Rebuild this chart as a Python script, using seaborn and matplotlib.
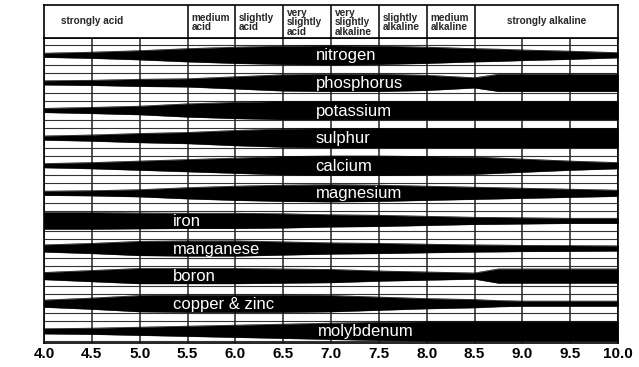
import numpy as np
import pandas as pd
import matplotlib
matplotlib.use("Agg")
import matplotlib.pyplot as plt
import seaborn as sns

# pH grid shared by every nutrient band
ph = [4.0, 4.5, 5.0, 5.5, 6.0, 6.5, 7.0, 7.5, 8.0, 8.5, 8.75, 9.0, 9.5, 10.0]

# relative availability (0-100)
nitrogen   = [20, 30, 45, 65, 80, 90, 95, 90, 80, 65, 60, 52, 40, 25]
phosphorus = [20, 25, 35, 40, 60, 80, 85, 85, 75, 50, 85, 85, 85, 85]
potassium  = [20, 30, 42, 65, 80, 90, 90, 90, 90, 90, 90, 90, 90, 90]
sulphur    = [20, 30, 45, 55, 75, 90, 95, 95, 95, 95, 95, 95, 95, 95]
calcium    = [20, 30, 45, 60, 75, 90, 95, 95, 90, 85, 75, 65, 45, 30]
magnesium  = [20, 25, 35, 55, 70, 80, 85, 80, 70, 60, 55, 50, 40, 30]
iron       = [82, 82, 78, 75, 75, 70, 60, 55, 45, 35, 33, 30, 25, 25]
manganese  = [35, 50, 70, 75, 75, 65, 55, 50, 42, 35, 33, 30, 28, 25]
boron      = [35, 55, 75, 75, 75, 70, 65, 50, 40, 30, 70, 70, 70, 70]
copper_zinc = [35, 55, 80, 85, 85, 85, 80, 65, 50, 40, 30, 25, 25, 25]
molybdenum = [25, 30, 40, 50, 60, 70, 80, 90, 95, 95, 95, 95, 95, 95]

nutrients = ["nitrogen", "phosphorus", "potassium", "sulphur", "calcium",
             "magnesium", "iron", "manganese", "boron", "copper & zinc",
             "molybdenum"]
label_ph = [6.84, 6.84, 6.84, 6.84, 6.84, 6.84, 5.35, 5.35, 5.35, 5.35, 6.86]

# soil reaction classes across the top
class_edges = [4.0, 5.5, 6.0, 6.5, 7.0, 7.5, 8.0, 8.5, 10.0]
class_names = ["strongly acid", "medium\nacid", "slightly\nacid",
               "very\nslightly\nacid", "very\nslightly\nalkaline",
               "slightly\nalkaline", "medium\nalkaline", "strongly alkaline"]

tick_ph = [4.0, 4.5, 5.0, 5.5, 6.0, 6.5, 7.0, 7.5, 8.0, 8.5, 9.0, 9.5, 10.0]

series = [nitrogen, phosphorus, potassium, sulphur, calcium, magnesium,
          iron, manganese, boron, copper_zinc, molybdenum]
df = pd.concat([pd.DataFrame({"nutrient": n, "row": i, "pH": ph, "avail": s})
                for i, (n, s) in enumerate(zip(nutrients, series))])
df["half"] = df["avail"] / 100 * 0.365

sns.set_theme(style="white")
plt.rcParams['font.family'] = ['Liberation Sans', 'DejaVu Sans']

fig = plt.figure(figsize=(6.39, 3.67), dpi=100)
L, W = 44 / 639, 574 / 639
ax = fig.add_axes([L, 1 - 343 / 367, W, 305 / 367])
hx = fig.add_axes([L, 1 - 38 / 367, W, 33 / 367])

# lanes and grid
for i in range(len(nutrients)):
    for off in (-0.355, 0.355):
        ax.axhline(i + off, color='#333333', lw=0.8, zorder=1)
for x in tick_ph:
    ax.axvline(x, color='#222222', lw=1.1, zorder=1)

# bands
for i, (name, grp) in enumerate(df.groupby("row", sort=True)):
    ax.fill_between(grp["pH"], grp["row"] - grp["half"], grp["row"] + grp["half"],
                    color='black', lw=0.3, edgecolor='black', zorder=2)
    sns.lineplot(x=grp["pH"], y=grp["row"] - grp["half"], color='black', lw=0.4,
                 ax=ax, zorder=2)
    sns.lineplot(x=grp["pH"], y=grp["row"] + grp["half"], color='black', lw=0.4,
                 ax=ax, zorder=2)
    ax.text(label_ph[i], i + 0.03, nutrients[i], color='white', fontsize=12,
            ha='left', va='center', zorder=3)

ax.set_xlim(4.0, 10.0)
ax.set_ylim(10.43, -0.62)
ax.set_xticks(tick_ph)
ax.set_xticklabels([f"{t:.1f}" for t in tick_ph], fontsize=11, fontweight='bold')
ax.tick_params(axis='x', length=0, pad=3, colors='black')
ax.set_yticks([])
ax.set_xlabel("")
ax.set_ylabel("")
for s in ax.spines.values():
    s.set_color('black')
    s.set_linewidth(1.2)

# header row
hx.set_xlim(4.0, 10.0)
hx.set_ylim(0, 1)
hx.set_xticks([])
hx.set_yticks([])
for s in hx.spines.values():
    s.set_color('black')
    s.set_linewidth(1.2)
for x in class_edges[1:-1]:
    hx.axvline(x, color='black', lw=1.1)
for j, name in enumerate(class_names):
    a, b = class_edges[j], class_edges[j + 1]
    if b - a > 1:
        hx.text(a + 0.5 if a < 7 else (a + b) / 2, 0.5, name, ha='center',
                va='center', fontsize=7.2, fontweight='bold')
    else:
        hx.text(a + 0.04, 0.47, name, ha='left', va='center', fontsize=7.2,
                fontweight='bold', linespacing=0.92)

fig.savefig("out.png", dpi=100)
